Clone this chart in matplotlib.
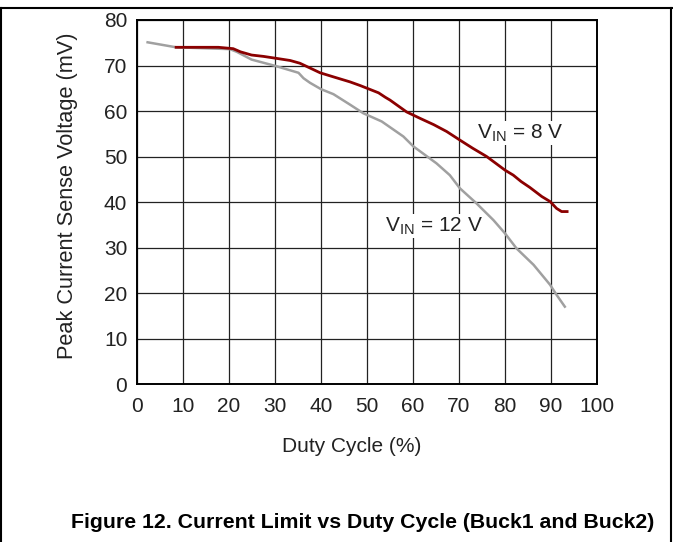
import matplotlib
matplotlib.use("Agg")
import matplotlib.pyplot as plt
from matplotlib.lines import Line2D

plt.rcParams['font.family'] = ['Liberation Sans', 'DejaVu Sans']

# ---- Data
# V_IN = 8 V
duty_8v = [8.5, 12.0, 17.7, 20.9, 22.5, 24.9, 27.5, 30.1, 33.3, 35.4, 37.5,
           39.8, 42.7, 46.3, 48.5, 50.5, 52.5, 54.0, 55.0, 58.6, 61.5, 64.5,
           67.3, 70.2, 73.0, 76.0, 78.0, 80.0, 81.8, 83.5, 85.4, 88.0, 89.8,
           91.2, 92.3, 93.5]
vsense_8v = [74.0, 74.0, 74.0, 73.7, 73.0, 72.3, 72.0, 71.6, 71.1, 70.5, 69.5,
             68.4, 67.5, 66.4, 65.6, 64.8, 64.0, 63.0, 62.4, 59.8, 58.4, 57.0,
             55.5, 53.6, 51.8, 50.0, 48.5, 47.0, 45.9, 44.5, 43.2, 41.2, 40.1,
             38.6, 37.9, 37.9]

# V_IN = 12 V
duty_12v = [2.3, 8.5, 20.2, 21.7, 24.9, 30.1, 35.1, 36.2, 37.6, 40.0, 42.7,
            46.3, 49.2, 53.2, 57.9, 60.1, 65.1, 68.0, 70.2, 73.8, 77.5, 80.0,
            82.5, 86.2, 89.8, 91.2, 93.0]
vsense_12v = [75.1, 74.0, 73.6, 73.0, 71.3, 69.9, 68.4, 67.2, 66.2, 64.8, 63.7,
              61.4, 59.5, 57.7, 54.4, 52.2, 48.5, 45.9, 43.0, 39.7, 36.0, 33.1,
              29.8, 26.2, 21.8, 19.6, 17.0]

x_ticks = [0, 10, 20, 30, 40, 50, 60, 70, 80, 90, 100]
y_ticks = [0, 10, 20, 30, 40, 50, 60, 70, 80]

# ---- Figure
fig = plt.figure(figsize=(6.73, 5.42), dpi=100)
ax = fig.add_axes([0.2036, 0.2915, 0.6835, 0.6716])

ax.plot(duty_12v, vsense_12v, color="#a0a0a0", lw=1.8, zorder=3)
ax.plot(duty_8v, vsense_8v, color="#8b0000", lw=2.0, zorder=4)

ax.set_xlim(0, 100)
ax.set_ylim(0, 80)
ax.set_xticks(x_ticks)
ax.set_yticks(y_ticks)
ax.grid(True, color="#222222", lw=0.9)
ax.set_axisbelow(True)
ax.tick_params(axis="x", length=0, pad=9, labelsize=15, colors="#222222")
ax.tick_params(axis="y", length=0, pad=7, labelsize=15, colors="#222222")
for s in ax.spines.values():
    s.set_linewidth(1.4)

ax.set_xlabel("Duty Cycle (%)", fontsize=15, color="#222222")
ax.xaxis.set_label_coords(0.467, -0.145)
ax.set_ylabel("Peak Current Sense Voltage (mV)", fontsize=15.7, color="#222222")
ax.yaxis.set_label_coords(-0.128, 0.516)

ax.text(74.0, 55.2, r"V$_{\mathregular{IN}}$ = 8 V", fontsize=15, va="center",
        ha="left", color="#222222", zorder=5,
        bbox=dict(facecolor="white", edgecolor="none", pad=1))
ax.text(54.0, 34.7, r"V$_{\mathregular{IN}}$ = 12 V", fontsize=15, va="center",
        ha="left", color="#222222", zorder=5,
        bbox=dict(facecolor="white", edgecolor="none", pad=1))

fig.text(363 / 673, 1 - 523 / 542,
         "Figure 12. Current Limit vs Duty Cycle (Buck1 and Buck2)",
         ha="center", va="center", fontsize=15.3, fontweight="bold")

# page frame
fig.add_artist(Line2D([0, 1], [1 - 8 / 542] * 2, color="black", lw=1.5,
                      transform=fig.transFigure))
fig.add_artist(Line2D([0.0015, 0.0015], [0, 1 - 8 / 542], color="black", lw=1.5,
                      transform=fig.transFigure))
fig.add_artist(Line2D([0.9975, 0.9975], [0, 1 - 8 / 542], color="black", lw=1.5,
                      transform=fig.transFigure))

fig.savefig("out.png", dpi=100)
